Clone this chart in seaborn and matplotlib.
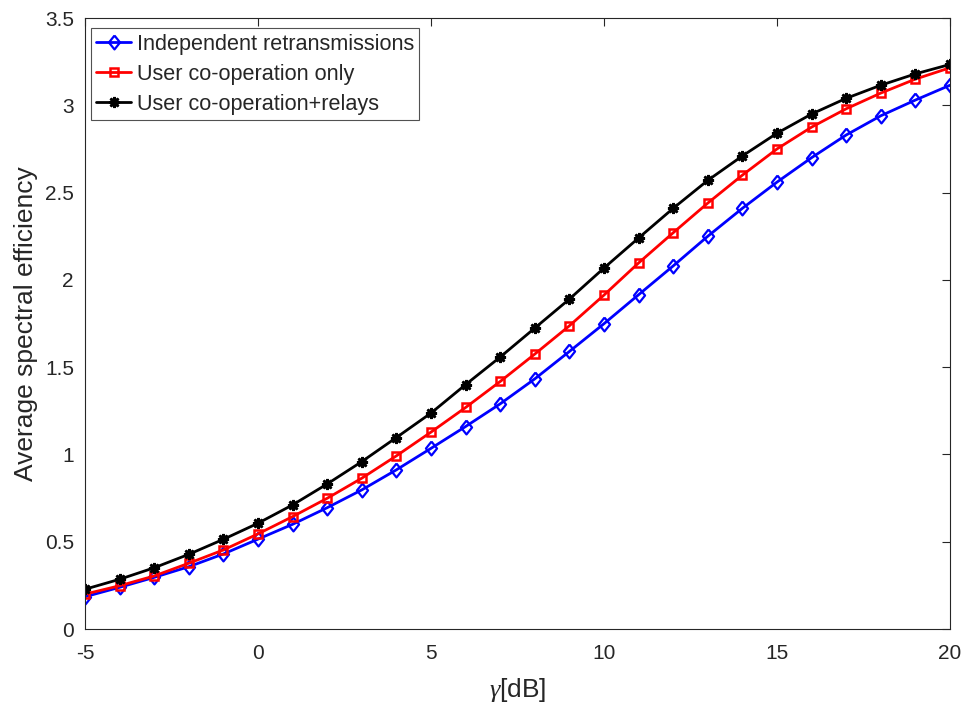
import numpy as np
import pandas as pd
import matplotlib
matplotlib.use("Agg")
import matplotlib.pyplot as plt
import seaborn as sns

gamma_db = list(range(-5, 21))
independent = [0.185, 0.239, 0.296, 0.357, 0.43, 0.515, 0.60, 0.695, 0.797, 0.912, 1.035, 1.16, 1.29,
               1.433, 1.59, 1.749, 1.915, 2.08, 2.25, 2.41, 2.56, 2.70, 2.83, 2.94, 3.03, 3.115]
coop_only = [0.20, 0.248, 0.304, 0.377, 0.453, 0.545, 0.644, 0.749, 0.864, 0.992, 1.128, 1.269, 1.418,
             1.575, 1.737, 1.913, 2.097, 2.27, 2.44, 2.60, 2.75, 2.875, 2.98, 3.07, 3.15, 3.215]
coop_relays = [0.228, 0.285, 0.351, 0.428, 0.514, 0.606, 0.711, 0.831, 0.959, 1.097, 1.237, 1.40, 1.558,
               1.724, 1.89, 2.068, 2.24, 2.41, 2.57, 2.71, 2.84, 2.95, 3.04, 3.115, 3.18, 3.234]
series_names = ["Independent retransmissions", "User co-operation only", "User co-operation+relays"]
colors = ["#0000FF", "#FF0000", "#000000"]
xticks = [-5, 0, 5, 10, 15, 20]
yticks = [0, 0.5, 1, 1.5, 2, 2.5, 3, 3.5]
ytick_labels = ["0", "0.5", "1", "1.5", "2", "2.5", "3", "3.5"]

frames = []
for name, vals in zip(series_names, [independent, coop_only, coop_relays]):
    frames.append(pd.DataFrame({"gamma": gamma_db, "se": vals, "series": name}))
df = pd.concat(frames, ignore_index=True)

sns.set_style("white")
plt.rcParams["font.family"] = ["Liberation Sans", "DejaVu Sans"]
plt.rcParams["mathtext.fontset"] = "custom"
plt.rcParams["mathtext.it"] = "Liberation Serif:italic"

fig = plt.figure(figsize=(9.68, 7.06), dpi=100)
ax = fig.add_axes([0.0878, 0.109, 0.8936, 0.8655])

diamond = [(0, 1), (0.8, 0), (0, -1), (-0.8, 0), (0, 1)]
markers = {series_names[0]: diamond, series_names[1]: "s", series_names[2]: (8, 2, 0)}
sizes_ms = {series_names[0]: 10, series_names[1]: 6, series_names[2]: 8}
mews = {series_names[0]: 1.6, series_names[1]: 1.8, series_names[2]: 1.9}
for name, col in zip(series_names, colors):
    sub = df[df["series"] == name]
    sns.lineplot(data=sub, x="gamma", y="se", ax=ax, color=col, linewidth=2,
                 marker=markers[name], markersize=sizes_ms[name],
                 markerfacecolor=("none" if name != series_names[2] else col),
                 markeredgecolor=col, markeredgewidth=mews[name], label=name)

ax.set_xlim(-5, 20)
ax.set_ylim(0, 3.5)
ax.set_xticks(xticks)
ax.set_xticklabels([str(t) for t in xticks])
ax.set_yticks(yticks)
ax.set_yticklabels(ytick_labels)
axcol = "#262626"
for sp in ax.spines.values():
    sp.set_visible(True)
    sp.set_color(axcol)
    sp.set_linewidth(0.8)
ax.tick_params(direction="in", length=6, width=0.8, colors=axcol, labelsize=15,
               top=True, right=True, labelcolor=axcol)
ax.tick_params(axis="x", pad=11)
ax.tick_params(axis="y", pad=8)
ax.set_xlabel(r"$\gamma$[dB]", fontsize=19, color=axcol, labelpad=9)
ax.set_ylabel("Average spectral efficiency", fontsize=19, color=axcol, labelpad=5)

leg = ax.legend(loc="upper left", bbox_to_anchor=(0.002, 0.99), fontsize=15.6, frameon=True,
                fancybox=False, edgecolor=axcol, handlelength=1.6, handletextpad=0.25,
                borderpad=0.25, labelspacing=0.42, borderaxespad=0.2)
leg.get_frame().set_linewidth(0.8)

fig.savefig("out.png", dpi=100)
